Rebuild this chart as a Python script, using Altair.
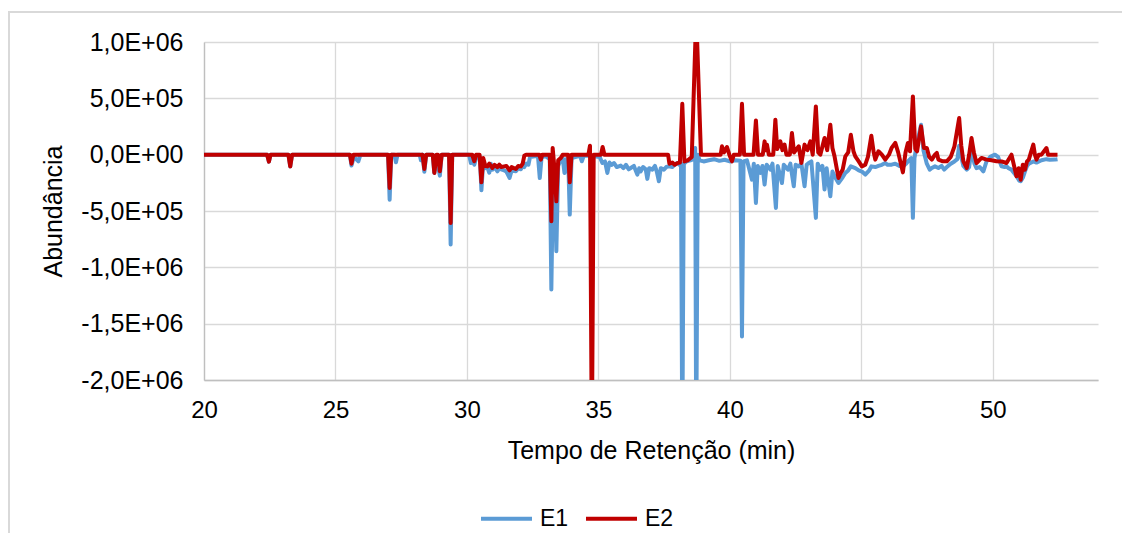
import altair as alt
import pandas as pd

# ---- data; abundance in thousands ----
e1_time = [20.00, 22.40, 22.47, 22.53, 23.21, 23.28, 23.35, 25.55, 25.61, 25.70, 25.87, 25.95,
           27.00, 27.06, 27.12, 27.24, 27.30, 27.36, 28.20, 28.25, 28.31, 28.38, 28.45, 28.70,
           28.76, 28.84, 28.97, 29.04, 29.32, 29.38, 29.44, 30.08, 30.15, 30.22, 30.28, 30.35,
           30.49, 30.55, 30.62, 30.70, 30.78, 30.85, 30.91, 30.97, 31.05, 31.16, 31.23, 31.30,
           31.42, 31.50, 31.62, 31.70, 31.86, 31.95, 32.05, 32.12, 32.18, 32.26, 32.34, 32.40,
           32.70, 32.77, 32.84, 33.00, 33.15, 33.21, 33.28, 33.34, 33.40, 33.47, 33.57, 33.64,
           33.71, 33.78, 33.85, 33.91, 33.98, 34.30, 34.37, 34.44, 34.70, 35.05, 35.15, 35.25,
           35.34, 35.42, 35.50, 35.59, 35.70, 35.85, 35.95, 36.05, 36.15, 36.23, 36.35, 36.48,
           36.55, 36.61, 36.70, 36.80, 36.86, 36.93, 37.05, 37.15, 37.22, 37.30, 37.37, 37.49,
           37.58, 37.68, 37.81, 37.90, 38.00, 38.08, 38.14, 38.19, 38.25, 38.35, 38.50, 38.62,
           38.68, 38.72, 38.78, 38.85, 39.00, 39.20, 39.40, 39.60, 39.80, 40.00, 40.20, 40.40,
           40.46, 40.52, 40.65, 40.84, 40.91, 40.99, 41.06, 41.16, 41.24, 41.32, 41.40, 41.54,
           41.62, 41.75, 41.82, 41.98, 42.05, 42.21, 42.30, 42.43, 42.50, 42.62, 42.72, 42.84,
           42.92, 43.00, 43.10, 43.27, 43.34, 43.44, 43.52, 43.60, 43.68, 43.82, 43.90, 43.98,
           44.13, 44.29, 44.39, 44.50, 44.60, 44.77, 44.90, 45.02, 45.15, 45.30, 45.38, 45.53,
           45.65, 45.78, 45.91, 46.00, 46.15, 46.29, 46.45, 46.58, 46.70, 46.77, 46.90, 46.96,
           47.02, 47.10, 47.27, 47.36, 47.49, 47.60, 47.68, 47.80, 47.93, 48.05, 48.15, 48.25,
           48.40, 48.54, 48.65, 48.72, 48.80, 48.88, 49.01, 49.10, 49.19, 49.30, 49.38, 49.50,
           49.64, 49.76, 49.90, 50.08, 50.20, 50.33, 50.45, 50.52, 50.60, 50.71, 50.80, 50.90,
           51.00, 51.06, 51.15, 51.22, 51.30, 51.37, 51.54, 51.66, 51.85, 52.04, 52.17, 52.36,
           52.46]
e1_abund = [0, 0, -62, 0, 0, -104, 0, 0, -97, -20, -59, 0,
            0, -400, 0, 0, -68, 0, 0, -50, 0, -151, 0, 0,
            -162, -30, -186, 0, 0, -798, 0, 0, -74, -20, -89, -30,
            -20, -316, -60, -120, -115, -160, -80, -133, -110, -148, -120, -130,
            -140, -150, -207, -140, -148, -120, -130, -100, -110, -80, -89, -20,
            -10, -207, -20, -15, -40, -1197, -100, -300, -857, -100, -40, -30,
            -162, -40, -30, -532, -30, -10, -59, -10, -10, -20, -74, -60,
            -162, -70, -90, -74, -110, -97, -120, -90, -130, -118, -100, -177,
            -120, -148, -110, -130, -215, -120, -133, -100, -150, -236, -120, -133,
            -110, -104, -109, -90, -74, -90, -80, -2600, -80, -60, -50, -40,
            60, -2600, 0, -50, -60, -50, -40, -55, -45, -60, -50, -55,
            -1613, -60, -50, -222, -80, -428, -100, -162, -100, -266, -90, -133,
            -80, -473, -100, -251, -90, -133, -80, -281, -90, -104, -80, -281,
            -90, -74, -60, -561, -80, -133, -100, -310, -120, -370, -150, -192,
            -251, -200, -162, -140, -104, -120, -140, -150, -177, -140, -104, -110,
            -100, -90, -74, -90, -89, -80, -100, -104, -80, -60, -30, -561,
            -30, 80, 266, 40, -80, -133, -118, -104, -118, -100, -133, -110,
            -80, -60, -40, 80, -20, -100, -133, -110, 50, -80, -120, -110,
            -148, -60, -20, 0, -20, -104, -110, -104, -120, -133, -160, -190,
            -230, -236, -200, -150, -100, -80, -60, -70, -50, -40, -45, -44,
            -40]

e2_time = [20.00, 22.40, 22.47, 22.53, 23.21, 23.28, 23.35, 25.55, 25.61, 25.68, 27.00, 27.06,
           27.12, 28.31, 28.38, 28.45, 28.70, 28.76, 28.84, 28.90, 28.97, 29.04, 29.32, 29.38,
           29.44, 30.20, 30.28, 30.35, 30.48, 30.55, 30.62, 30.70, 30.78, 30.85, 30.97, 31.05,
           31.16, 31.23, 31.30, 31.42, 31.50, 31.62, 31.70, 31.86, 31.95, 32.05, 32.12, 32.18,
           32.25, 32.75, 32.81, 32.87, 33.15, 33.21, 33.26, 33.32, 33.40, 33.47, 33.57, 33.64,
           33.85, 33.91, 33.98, 34.62, 34.68, 34.75, 34.82, 35.10, 35.16, 35.23, 37.65, 37.70,
           37.81, 37.90, 38.00, 38.10, 38.19, 38.27, 38.40, 38.55, 38.72, 38.90, 39.65, 39.70,
           39.78, 39.89, 39.98, 40.08, 40.15, 40.38, 40.46, 40.54, 40.90, 40.99, 41.07, 41.25,
           41.32, 41.37, 41.41, 41.48, 41.65, 41.73, 41.80, 41.92, 42.00, 42.08, 42.15, 42.28,
           42.36, 42.44, 42.62, 42.72, 42.84, 42.95, 43.06, 43.15, 43.27, 43.36, 43.44, 43.60,
           43.70, 43.82, 43.90, 43.98, 44.13, 44.22, 44.29, 44.39, 44.50, 44.60, 44.70, 44.77,
           44.90, 45.02, 45.15, 45.25, 45.38, 45.47, 45.53, 45.65, 45.78, 45.91, 46.05, 46.15,
           46.29, 46.40, 46.58, 46.68, 46.77, 46.85, 46.96, 47.05, 47.12, 47.27, 47.38, 47.49,
           47.58, 47.68, 47.80, 47.87, 47.93, 48.10, 48.25, 48.40, 48.54, 48.72, 48.80, 48.88,
           49.01, 49.10, 49.19, 49.28, 49.38, 49.57, 49.76, 49.95, 50.14, 50.33, 50.52, 50.71,
           50.90, 50.98, 51.06, 51.14, 51.22, 51.30, 51.37, 51.45, 51.54, 51.60, 51.66, 51.75,
           51.85, 52.04, 52.10, 52.17, 52.46]
e2_abund = [0, 0, -62, 0, 0, -104, 0, 0, -80, 0, 0, -295,
            0, 0, -127, 0, 0, -162, 0, 0, -148, 0, 0, -606,
            0, 0, -59, 0, 0, -245, -30, -100, -104, -80, -118, -90,
            -110, -89, -110, -104, -100, -140, -110, -127, -100, -104, -80, -10,
            0, 0, -44, 0, 0, -591, 59, -100, -414, -50, -29, 0,
            0, -245, 0, 0, 80, -2600, 0, 0, 68, 0, 0, -80,
            -70, -90, -75, -70, 452, -60, -50, -20, 1250, 0, 0, 74,
            20, 68, 0, -59, 0, 0, 452, 0, 0, 304, 0, 0,
            118, 40, 89, 0, 0, 310, 50, 118, 40, 89, 0, 0,
            192, 20, 74, -74, 89, 40, 118, 0, 428, 20, 0, 148,
            40, 266, 60, -15, -207, -160, -133, -15, 20, 177, 30, -15,
            -60, -104, -89, -20, 168, 20, -44, 30, 0, -44, 0, 60,
            104, 20, -157, 20, 104, 30, 517, 50, 30, 251, 60, 59,
            -20, -44, 0, 15, -44, -59, -59, -20, 74, 325, 80, -59,
            -118, 0, 148, 20, -74, -29, -44, -50, -59, -60, -74, 0,
            -192, -120, -222, -90, -133, -60, -44, 20, 89, 0, -44, 0,
            0, 59, 0, 0, 0]

series_names = ["E1", "E2"]
series_colors = ["#5B9BD5", "#C00000"]
x_ticks = [20, 25, 30, 35, 40, 45, 50]
y_ticks = [-2000000, -1500000, -1000000, -500000, 0, 500000, 1000000]

df = pd.concat([
    pd.DataFrame({"t": e1_time, "a": [v * 1000 for v in e1_abund], "s": "E1", "o": range(len(e1_time))}),
    pd.DataFrame({"t": e2_time, "a": [v * 1000 for v in e2_abund], "s": "E2", "o": range(len(e2_time))}),
])

FONT = "Liberation Sans"

label_expr = ("(datum.value < 0 ? '-' : '') + replace(replace(replace("
              "format(abs(datum.value), '.1e'), '.', ','), 'e+', 'E+0'), 'e-', 'E-0')")

lines = alt.Chart(df).mark_line(strokeWidth=4, clip=True, strokeJoin="round").encode(
    x=alt.X("t:Q", scale=alt.Scale(domain=[20, 54], nice=False, zero=False),
            axis=alt.Axis(values=x_ticks, title="Tempo de Retenção (min)", grid=True,
                          ticks=False, labelFlush=False, labelPadding=18, titlePadding=16,
                          labelFontSize=24, titleFontSize=25,
                          domainColor="#BFBFBF", domainWidth=1.3)),
    y=alt.Y("a:Q", scale=alt.Scale(domain=[-2000000, 1000000], nice=False),
            axis=alt.Axis(values=y_ticks, title="Abundância", labelExpr=label_expr,
                          ticks=False, labelPadding=21, titlePadding=14,
                          labelFontSize=25, titleFontSize=25,
                          domainColor="#BFBFBF", domainWidth=1.3)),
    color=alt.Color("s:N", scale=alt.Scale(domain=series_names, range=series_colors),
                    legend=alt.Legend(title=None, orient="none", legendX=275, legendY=449,
                                      direction="horizontal", symbolType="stroke",
                                      symbolSize=2601, symbolStrokeWidth=4,
                                      labelFontSize=23, labelFont=FONT, labelColor="#000000",
                                      labelOffset=6, columnPadding=9, padding=0)),
    order="o:Q",
)

frame = alt.Chart(df).mark_rect(fill=None, stroke="#D9D9D9", strokeWidth=1.3, clip=False).encode(
    x=alt.value(-195), x2=alt.value(940), y=alt.value(-30), y2=alt.value(520)
)

chart = alt.layer(frame, lines).properties(
    width=894, height=338,
    autosize=alt.AutoSizeParams(type="none"),
    padding={"left": 196, "top": 34, "right": 24, "bottom": 153},
).configure_axis(
    labelFont=FONT, titleFont=FONT,
    labelColor="#000000", titleColor="#000000", titleFontWeight="normal",
    gridColor="#D9D9D9", gridWidth=1.3,
).configure_view(stroke=None)

chart.save("out.html", embed_options={"renderer": "svg", "actions": False})
